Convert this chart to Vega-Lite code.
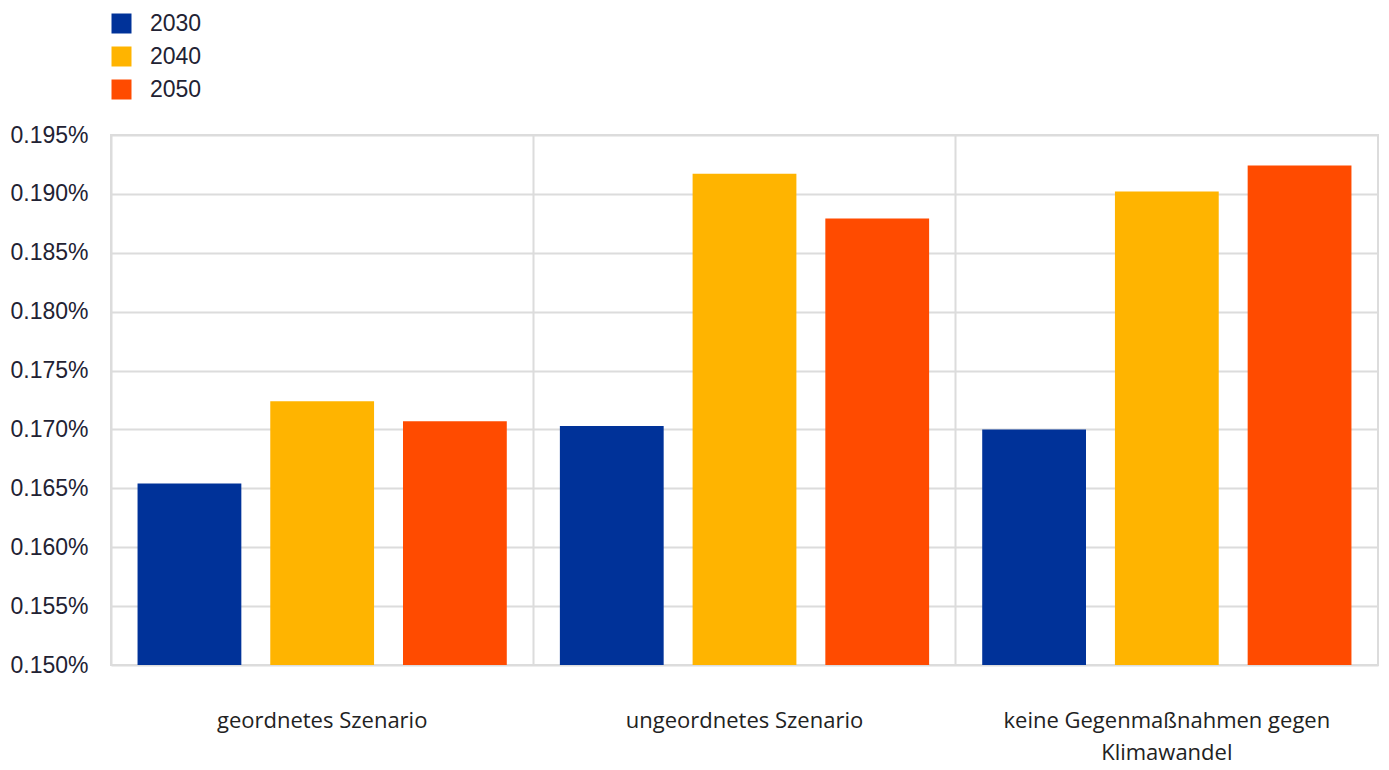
{
  "$schema": "https://vega.github.io/schema/vega-lite/v6.json",
  "width": 1267,
  "height": 530,
  "autosize": {"type": "none"},
  "padding": {"left": 111, "top": 135, "right": 11, "bottom": 105},
  "background": "white",
  "data": {
    "values": [
      {"szenario": "geordnetes Szenario", "jahr": "2030", "wert": 0.001654},
      {"szenario": "geordnetes Szenario", "jahr": "2040", "wert": 0.001724},
      {"szenario": "geordnetes Szenario", "jahr": "2050", "wert": 0.001707},
      {"szenario": "ungeordnetes Szenario", "jahr": "2030", "wert": 0.001703},
      {"szenario": "ungeordnetes Szenario", "jahr": "2040", "wert": 0.001917},
      {"szenario": "ungeordnetes Szenario", "jahr": "2050", "wert": 0.001879},
      {"szenario": "keine Gegenmaßnahmen gegen Klimawandel", "jahr": "2030", "wert": 0.001700},
      {"szenario": "keine Gegenmaßnahmen gegen Klimawandel", "jahr": "2040", "wert": 0.001902},
      {"szenario": "keine Gegenmaßnahmen gegen Klimawandel", "jahr": "2050", "wert": 0.001924}
    ]
  },
  "config": {
    "view": {"stroke": "#dcdcdc", "strokeWidth": 2},
    "axis": {"gridColor": "#dcdcdc", "gridWidth": 2}
  },
  "mark": {"type": "bar", "clip": true},
  "encoding": {
    "x": {
      "field": "szenario",
      "type": "nominal",
      "sort": null,
      "title": null,
      "scale": {"paddingInner": 0, "paddingOuter": 0},
      "axis": {
        "bandPosition": 0,
        "grid": true,
        "domain": false,
        "ticks": false,
        "labelAngle": 0,
        "labelFont": "Open Sans",
        "labelFontSize": 22,
        "labelLimit": 0,
        "labelColor": "#222222",
        "labelPadding": 55,
        "labelLineHeight": 32,
        "labelBaseline": "middle",
        "labelExpr": "datum.label == 'keine Gegenmaßnahmen gegen Klimawandel' ? ['keine Gegenmaßnahmen gegen', 'Klimawandel'] : datum.label"
      }
    },
    "xOffset": {
      "field": "jahr",
      "type": "nominal",
      "scale": {"paddingInner": 0.218, "paddingOuter": 0.2}
    },
    "y": {
      "field": "wert",
      "type": "quantitative",
      "title": null,
      "scale": {"domain": [0.0015, 0.00195], "zero": false, "nice": false},
      "axis": {
        "format": ".3%",
        "values": [0.0015, 0.00155, 0.0016, 0.00165, 0.0017, 0.00175, 0.0018, 0.00185, 0.0019, 0.00195],
        "domain": false,
        "ticks": false,
        "labelFont": "Liberation Sans",
        "labelFontSize": 23,
        "labelColor": "#222233",
        "labelPadding": 23
      }
    },
    "color": {
      "field": "jahr",
      "type": "nominal",
      "title": null,
      "scale": {"domain": ["2030", "2040", "2050"], "range": ["#003299", "#FFB400", "#FF4B00"]},
      "legend": {
        "orient": "none",
        "legendX": -1,
        "legendY": -123,
        "direction": "vertical",
        "symbolType": "square",
        "symbolSize": 400,
        "symbolStrokeWidth": 0,
        "rowPadding": 9,
        "labelOffset": 17,
        "labelFont": "Liberation Sans",
        "labelFontSize": 23,
        "labelColor": "#222233",
        "padding": 0
      }
    }
  }
}
